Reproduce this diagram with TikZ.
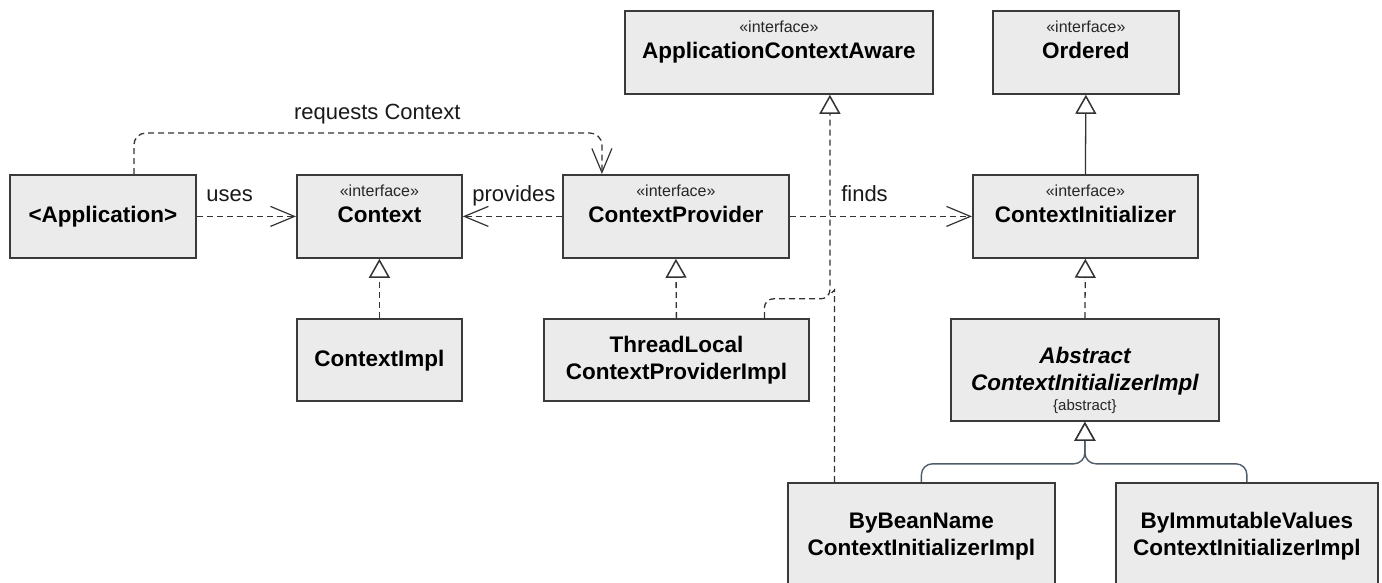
\documentclass[tikz,border=0pt]{standalone}
\usepackage{fontspec}
\setmainfont{Liberation Sans}
\usetikzlibrary{arrows.meta,calc}

\definecolor{boxfill}{HTML}{EBEBEB}
\definecolor{boxline}{HTML}{3A3A3A}
\definecolor{linec}{HTML}{333333}
\definecolor{treec}{HTML}{4F5C69}

\tikzset{
  cls/.style={draw=boxline, fill=boxfill, line width=1.8pt, inner sep=0pt},
  stereo/.style={font=\fontsize{16}{18}\selectfont, text=black!85, inner sep=0pt, anchor=base},
  nm/.style={font=\fontsize{22.5}{27}\bfseries\selectfont, inner sep=0pt, anchor=base},
  nmit/.style={font=\fontsize{22.5}{27}\bfseries\itshape\selectfont, inner sep=0pt, anchor=base},
  prop/.style={font=\fontsize{15}{17}\selectfont, text=black!85, inner sep=0pt, anchor=base},
  lbl/.style={font=\fontsize{22}{26}\selectfont, text=black!90, inner sep=0pt, anchor=base},
  dep/.style={draw=linec, line width=1.3pt, dash pattern=on 6pt off 4pt,
    -{Straight Barb[length=24pt,width=20pt,line width=1.2pt]}},
  real/.style={draw=linec, line width=1.3pt, dash pattern=on 6pt off 4pt,
    -{Triangle[open,fill=white,length=19pt,width=21pt,line width=1.5pt]}},
  realplain/.style={draw=linec, line width=1.3pt, dash pattern=on 6pt off 4pt},
  gen/.style={draw=linec, line width=1.3pt,
    -{Triangle[open,fill=white,length=19pt,width=21pt,line width=1.5pt]}},
  tree/.style={draw=treec, line width=1.4pt,
    -{Triangle[open,fill=white,length=19pt,width=21pt,line width=1.5pt,color=linec]}},
}

\begin{document}
\begin{tikzpicture}[x=1pt,y=-1pt]
\useasboundingbox (0,0) rectangle (1382,582);
\clip (0,0) rectangle (1382,582);
\fill[white] (0,0) rectangle (1382,582);

% ---- classes and interfaces ----
\node[cls, minimum width=186pt, minimum height=83pt, anchor=north west] (app) at (9,174) {};
\node[nm] (appN) at ([yshift=-48pt]app.north) {<Application>};

\node[cls, minimum width=165pt, minimum height=83pt, anchor=north west] (ctx) at (296,174) {};
\node[stereo] (ctxS) at ([yshift=-22pt]ctx.north) {«interface»};
\node[nm] (ctxN) at ([yshift=-48pt]ctx.north) {Context};

\node[cls, minimum width=226pt, minimum height=83pt, anchor=north west] (cp) at (562,174) {};
\node[stereo] (cpS) at ([yshift=-22pt]cp.north) {«interface»};
\node[nm] (cpN) at ([yshift=-48pt]cp.north) {ContextProvider};

\node[cls, minimum width=308pt, minimum height=83pt, anchor=north west] (aca) at (624,10) {};
\node[stereo] (acaS) at ([yshift=-22pt]aca.north) {«interface»};
\node[nm] (acaN) at ([yshift=-48pt]aca.north) {ApplicationContextAware};

\node[cls, minimum width=186pt, minimum height=83pt, anchor=north west] (ord) at (992,10) {};
\node[stereo] (ordS) at ([yshift=-22pt]ord.north) {«interface»};
\node[nm] (ordN) at ([yshift=-48pt]ord.north) {Ordered};

\node[cls, minimum width=225pt, minimum height=83pt, anchor=north west] (ci) at (972,174) {};
\node[stereo] (ciS) at ([yshift=-22pt]ci.north) {«interface»};
\node[nm] (ciN) at ([yshift=-48pt]ci.north) {ContextInitializer};

\node[cls, minimum width=165pt, minimum height=82pt, anchor=north west] (cimpl) at (296,318) {};
\node[nm] (cimplN) at ([yshift=-48pt]cimpl.north) {ContextImpl};

\node[cls, minimum width=265pt, minimum height=82pt, anchor=north west] (tl) at (543,318) {};
\node[nm] (tlA) at ([yshift=-34pt]tl.north) {ThreadLocal};
\node[nm] (tlB) at ([yshift=-61pt]tl.north) {ContextProviderImpl};

\node[cls, minimum width=268pt, minimum height=102pt, anchor=north west] (abs) at (950,318) {};
\node[nmit] (absA) at ([yshift=-45pt]abs.north) {Abstract};
\node[nmit] (absB) at ([yshift=-72pt]abs.north) {ContextInitializerImpl};
\node[prop] (absC) at ([yshift=-92pt]abs.north) {\{abstract\}};

\node[cls, minimum width=267pt, minimum height=120pt, anchor=north west] (bbn) at (787,482) {};
\node[nm] (bbnA) at ([yshift=-46pt]bbn.north) {ByBeanName};
\node[nm] (bbnB) at ([yshift=-73pt]bbn.north) {ContextInitializerImpl};

\node[cls, minimum width=262pt, minimum height=120pt, anchor=north west] (bim) at (1115,482) {};
\node[nm] (bimA) at ([yshift=-46pt]bim.north) {ByImmutableValues};
\node[nm] (bimB) at ([yshift=-73pt]bim.north) {ContextInitializerImpl};

% ---- dependencies ----
\draw[dep] (app.east) -- node[lbl, pos=0.33, yshift=15pt] (usesL) {uses} (ctx.west);
\draw[dep] (cp.west) -- node[lbl, pos=0.485, yshift=15pt] (provL) {provides} (ctx.east);
\draw[dep] (cp.east) -- node[lbl, pos=0.41, yshift=15pt] (findsL) {finds} (ci.west);
\draw[dep, rounded corners=12pt] ([xshift=31pt]app.north)
  |- node[lbl, pos=0.76, yshift=14pt] (reqL) {requests Context}
  ([xshift=-74pt,yshift=41pt]cp.north) -- ([xshift=-74pt]cp.north);

% ---- realizations ----
\draw[real] (cimpl.north) -- (ctx.south);
\draw[real] (tl.north) -- (cp.south);
\draw[real] (abs.north) -- (ci.south);
\coordinate (acaJ) at ([xshift=51pt,yshift=-204pt]aca.south);
\draw[real, rounded corners=9pt] ([xshift=88pt]tl.north) |- (acaJ) -- ([xshift=51pt]aca.south);
\draw[realplain] ([xshift=-87pt]bbn.north) -- ([xshift=-87pt,yshift=192pt]bbn.north) -- ([yshift=4pt]acaJ);

% ---- generalizations ----
\draw[gen] (ci.north) -- (ord.south);
\coordinate (treeJ) at ([yshift=-42pt]abs.south);
\draw[tree, rounded corners=11pt] (bbn.north) |- (treeJ) -- (abs.south);
\draw[tree, rounded corners=11pt] (bim.north) |- (treeJ) -- (abs.south);
\end{tikzpicture}
\end{document}
